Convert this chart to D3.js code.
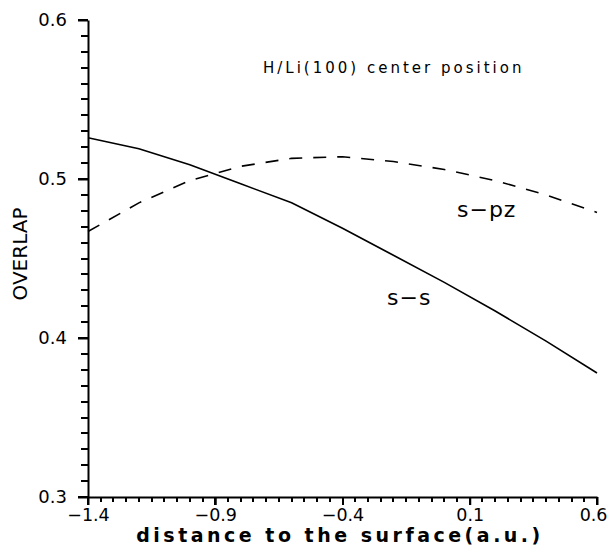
<!DOCTYPE html>
<html>
<head>
<meta charset="utf-8">
<script src="https://cdn.jsdelivr.net/npm/d3@7"></script>
<style>
  body { margin: 0; background: #fff; }
  svg { font-family: "DejaVu Sans", sans-serif; }
</style>
</head>
<body>
<svg id="viz" width="608" height="550"></svg>
<script>
// distance to the surface (a.u.)
var distance = [-1.4, -1.2, -1.0, -0.8, -0.6, -0.4, -0.2, 0.0, 0.2, 0.4, 0.6];
// overlap curves
var overlapSS  = [0.526, 0.519, 0.509, 0.497, 0.485, 0.469, 0.452, 0.435, 0.417, 0.398, 0.378];
var overlapSPz = [0.467, 0.485, 0.499, 0.508, 0.513, 0.514, 0.511, 0.506, 0.499, 0.490, 0.479];

var xMajor = [-1.4, -0.9, -0.4, 0.1, 0.6];
var yMajor = [0.3, 0.4, 0.5, 0.6];

var margin = {left: 88, right: 11, top: 20, bottom: 53};
var width = 608, height = 550;

var svg = d3.select("#viz");

var x = d3.scaleLinear().domain([-1.4, 0.6]).range([margin.left, width - margin.right]);
var y = d3.scaleLinear().domain([0.3, 0.6]).range([height - margin.bottom, margin.top]);

var xMinor = d3.range(0, 41).map(function(i) { return -1.4 + i * 0.05; });
var yMinor = d3.range(0, 31).map(function(i) { return 0.3 + i * 0.01; });

function isMajor(v, list) {
    return list.some(function(m) { return Math.abs(m - v) < 1e-6; });
}

// tick marks as small rectangles
svg.append("g")
    .selectAll("rect")
    .data(yMinor)
    .enter()
    .append("rect")
    .attr("x", function(d) { return margin.left - (isMajor(d, yMajor) ? 10 : 7); })
    .attr("y", function(d) { return Math.round(y(d)) - 1; })
    .attr("width", function(d) { return isMajor(d, yMajor) ? 10 : 7; })
    .attr("height", 2)
    .attr("fill", "#000");

svg.append("g")
    .selectAll("rect")
    .data(xMinor)
    .enter()
    .append("rect")
    .attr("x", function(d) { return Math.round(x(d)) - 1; })
    .attr("y", y(0.3))
    .attr("width", 2)
    .attr("height", function(d) { return isMajor(d, xMajor) ? 8 : 5; })
    .attr("fill", "#000");

// axes: domain lines and labels
var yAxis = svg.append("g")
    .attr("transform", "translate(" + margin.left + ",0)")
    .call(d3.axisLeft(y).tickValues(yMajor).tickSize(10).tickSizeOuter(0).tickPadding(11)
        .tickFormat(d3.format(".1f")));
yAxis.select(".domain").attr("stroke", "#000").attr("stroke-width", 2);
yAxis.selectAll(".tick line").attr("stroke", "#000").attr("stroke-width", 2);
yAxis.selectAll("text").attr("font-size", 18).attr("fill", "#000")
    .attr("font-family", "DejaVu Sans, sans-serif");

var xAxis = svg.append("g")
    .attr("transform", "translate(0," + y(0.3) + ")")
    .call(d3.axisBottom(x).tickValues(xMajor).tickSize(8).tickSizeOuter(0).tickPadding(4)
        .tickFormat(function(d) { return d3.format(".1f")(d).replace("-", "\u2212"); }));
xAxis.select(".domain").attr("stroke", "#000").attr("stroke-width", 2);
xAxis.selectAll(".tick line").attr("stroke", "#000").attr("stroke-width", 2);
xAxis.selectAll("text").attr("font-size", 17.5).attr("fill", "#000")
    .attr("font-family", "DejaVu Sans, sans-serif");
// keep the last label inside the picture
xAxis.selectAll("text").filter(function(d) { return d === 0.6; })
    .attr("text-anchor", "end").attr("dx", 10);

// curves
var line = d3.line()
    .x(function(d) { return x(d[0]); })
    .y(function(d) { return y(d[1]); });

svg.append("path")
    .datum(d3.zip(distance, overlapSS))
    .attr("fill", "none")
    .attr("stroke", "#000")
    .attr("stroke-width", 1.6)
    .attr("d", line);

svg.append("path")
    .datum(d3.zip(distance, overlapSPz))
    .attr("fill", "none")
    .attr("stroke", "#000")
    .attr("stroke-width", 1.6)
    .attr("stroke-dasharray", "13,11")
    .attr("d", line);

// titles
svg.append("text")
    .attr("x", 340).attr("y", 542)
    .attr("text-anchor", "middle")
    .attr("font-size", 19).attr("font-weight", "bold")
    .attr("letter-spacing", 3.5)
    .text("distance to the surface(a.u.)");

svg.append("text")
    .attr("transform", "translate(27,254) rotate(-90)")
    .attr("text-anchor", "middle")
    .attr("font-size", 20)
    .text("OVERLAP");

svg.append("text")
    .attr("x", 263).attr("y", 73)
    .attr("font-size", 15)
    .attr("letter-spacing", 3)
    .text("H/Li(100)  center position");

svg.append("text")
    .attr("x", 457).attr("y", 217)
    .attr("font-size", 22)
    .attr("letter-spacing", 1)
    .text("s\u2212pz");

svg.append("text")
    .attr("x", 387).attr("y", 305)
    .attr("font-size", 22)
    .attr("letter-spacing", 1)
    .text("s\u2212s");
</script>
</body>
</html>
